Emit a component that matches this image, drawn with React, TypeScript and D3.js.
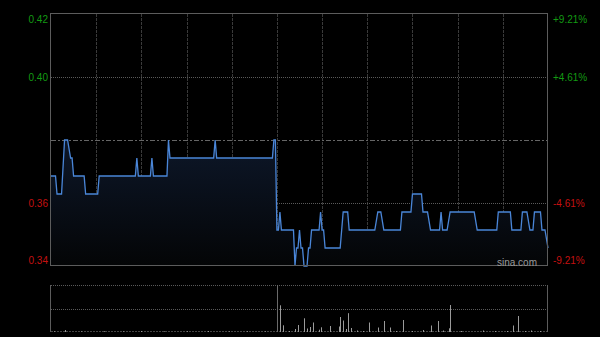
import React from "react";
import * as d3 from "d3";

// Minute index (0..330, lunch break at 150) and price at each breakpoint of the intraday line
const minutes = [
  0, 3, 4, 7, 9, 11, 13, 14, 15, 22, 23, 31, 32, 56, 57, 58, 66, 67, 68, 77, 78, 79,
  108, 109, 110, 147, 148, 149, 150, 151, 152, 153, 160, 161, 162, 163, 164, 165, 166,
  167, 168, 170, 171, 172, 173, 178, 179, 180, 181, 182, 192, 194, 197, 198, 215, 217,
  219, 221, 232, 233, 239, 240, 246, 247, 250, 252, 258, 259, 260, 263, 265, 281, 283,
  296, 297, 305, 306, 312, 313, 316, 318, 320, 321, 325, 326, 328, 330,
];
const prices = [
  0.37, 0.37, 0.365, 0.365, 0.38, 0.38, 0.375, 0.375, 0.37, 0.37, 0.365, 0.365, 0.37, 0.37,
  0.375, 0.37, 0.37, 0.375, 0.37, 0.37, 0.38, 0.375, 0.375, 0.38, 0.375, 0.375, 0.38, 0.38,
  0.355, 0.355, 0.36, 0.355, 0.355, 0.355, 0.345, 0.35, 0.35, 0.355, 0.35, 0.35, 0.345,
  0.345, 0.35, 0.35, 0.355, 0.355, 0.36, 0.355, 0.355, 0.35, 0.35, 0.36, 0.36, 0.355,
  0.355, 0.36, 0.36, 0.355, 0.355, 0.36, 0.36, 0.365, 0.365, 0.36, 0.36, 0.355, 0.355,
  0.36, 0.355, 0.355, 0.36, 0.36, 0.355, 0.355, 0.36, 0.36, 0.355, 0.355, 0.36, 0.36,
  0.355, 0.355, 0.36, 0.36, 0.355, 0.355, 0.35,
];

// Volume bars (minute index, shares)
const volMinutes = [
  2, 9, 20, 35, 48, 60, 75, 90, 104, 118, 130, 142, 152, 154, 158, 162, 164, 168, 170, 172,
  174, 178, 179, 185, 191, 192, 194, 196, 197, 199, 203, 207, 211, 217, 221, 225, 229, 234,
  240, 247, 252, 257, 260, 264, 265, 272, 287, 295, 303, 307, 310, 315, 319, 325,
];
const volumes = [
  15000, 40000, 12000, 15000, 12000, 20000, 12000, 15000, 20000, 12000, 15000, 12000,
  534000, 134000, 20000, 60000, 140000, 274000, 70000, 100000, 190000, 46000, 94000,
  120000, 110000, 300000, 230000, 60000, 376000, 80000, 30000, 20000, 190000, 90000,
  220000, 90000, 20000, 240000, 20000, 40000, 130000, 220000, 30000, 74000, 540000,
  20000, 30000, 20000, 20000, 130000, 320000, 20000, 30000, 20000,
];

const prevClose = 0.38;
const tickPrices = [0.415, 0.3975, 0.3625, 0.345];
const leftTickLabels = ["0.42", "0.40", "0.36", "0.34"];
const rightTickLabels = ["+9.21%", "+4.61%", "-4.61%", "-9.21%"];
const gridMinutes = [30, 60, 90, 120, 150, 180, 210, 240, 270, 300];

export default function App() {
  const W = 600;
  const H = 337;
  const left = 51;
  const right = 548;
  const top = 14;
  const bottom = 266;
  const vTop = 285;
  const vBottom = 332;

  const x = d3.scaleLinear().domain([0, 330]).range([left, right]);
  const y = d3.scaleLinear().domain([0.345, 0.415]).range([bottom, top]);
  const vy = d3.scaleLinear().domain([0, 940000]).range([vBottom, vTop]);

  const pts = minutes.map((m, i) => [m, prices[i]] as [number, number]);
  const line = d3
    .line<[number, number]>()
    .x((d) => x(d[0]))
    .y((d) => y(d[1]));
  const area = d3
    .area<[number, number]>()
    .x((d) => x(d[0]))
    .y0(bottom)
    .y1((d) => y(d[1]));

  const font = "'Liberation Sans', Arial, sans-serif";

  return (
    <svg
      width={W}
      height={H}
      style={{ position: "absolute", left: 0, top: 0, background: "#000" }}
    >
      <defs>
        <linearGradient id="fillGrad" gradientUnits="userSpaceOnUse" x1="0" y1={y(0.38)} x2="0" y2={bottom}>
          <stop offset="0%" stopColor="#0d1729" />
          <stop offset="100%" stopColor="#040506" />
        </linearGradient>
      </defs>
      <rect x={0} y={0} width={W} height={H} fill="#000" />

      {/* vertical grid */}
      {gridMinutes.map((m) => (
        <line
          key={"vg" + m}
          x1={Math.round(x(m)) + 0.5}
          x2={Math.round(x(m)) + 0.5}
          y1={top}
          y2={bottom}
          stroke="#3a3a3a"
          strokeDasharray="3,1"
        />
      ))}
      {/* horizontal grid */}
      {[tickPrices[1], tickPrices[2]].map((v) => (
        <line
          key={"hg" + v}
          x1={left}
          x2={right}
          y1={Math.round(y(v)) + 0.5}
          y2={Math.round(y(v)) + 0.5}
          stroke="#5a5a5a"
          strokeDasharray="1,1"
        />
      ))}
      <line
        x1={left}
        x2={right}
        y1={Math.round(y(prevClose)) + 0.5}
        y2={Math.round(y(prevClose)) + 0.5}
        stroke="#666"
        strokeDasharray="5,2,2,2"
      />

      {/* area + line */}
      <path d={area(pts) || ""} fill="url(#fillGrad)" />
      <path d={line(pts) || ""} fill="none" stroke="#4a86d8" strokeWidth={1.3} />

      {/* main frame */}
      <rect
        x={left - 0.5}
        y={top - 0.5}
        width={right - left}
        height={bottom - top}
        fill="none"
        stroke="#5c5c5c"
      />

      {/* labels */}
      {tickPrices.map((v, i) => {
        const yy = Math.min(Math.max(y(v), top + 5), bottom - 6);
        const col = v > prevClose ? "#139a13" : "#c41010";
        return (
          <g key={"lb" + i}>
            <text x={48} y={yy} dy="0.35em" textAnchor="end" fill={col} fontSize={10} fontFamily={font}>
              {leftTickLabels[i]}
            </text>
            <text x={553} y={yy} dy="0.35em" textAnchor="start" fill={col} fontSize={10} fontFamily={font}>
              {rightTickLabels[i]}
            </text>
          </g>
        );
      })}
      <text x={537} y={262} dy="0.35em" textAnchor="end" fill="#9a9a9a" fontSize={10} fontFamily={font}>
        sina.com
      </text>

      {/* volume panel */}
      {[vTop, (vTop + vBottom) / 2].map((yy, i) => (
        <line
          key={"vgh" + i}
          x1={left}
          x2={right}
          y1={Math.round(yy) + 0.5}
          y2={Math.round(yy) + 0.5}
          stroke="#5a5a5a"
          strokeDasharray="1,1"
        />
      ))}
      <line x1={left} x2={right} y1={vBottom - 0.5} y2={vBottom - 0.5} stroke="#444" strokeDasharray="2,1" />
      {volMinutes.map((m, i) => (
        <line
          key={"vb" + i}
          x1={Math.round(x(m)) + 0.5}
          x2={Math.round(x(m)) + 0.5}
          y1={vBottom}
          y2={vy(volumes[i])}
          stroke="#9a9a9a"
        />
      ))}
      <line x1={left - 0.5} x2={left - 0.5} y1={vTop} y2={vBottom} stroke="#5c5c5c" />
      <line x1={right - 0.5} x2={right - 0.5} y1={vTop} y2={vBottom} stroke="#5c5c5c" />
      <line
        x1={Math.round(x(150)) + 0.5}
        x2={Math.round(x(150)) + 0.5}
        y1={vTop}
        y2={vBottom}
        stroke="#6a6a6a"
      />
    </svg>
  );
}
